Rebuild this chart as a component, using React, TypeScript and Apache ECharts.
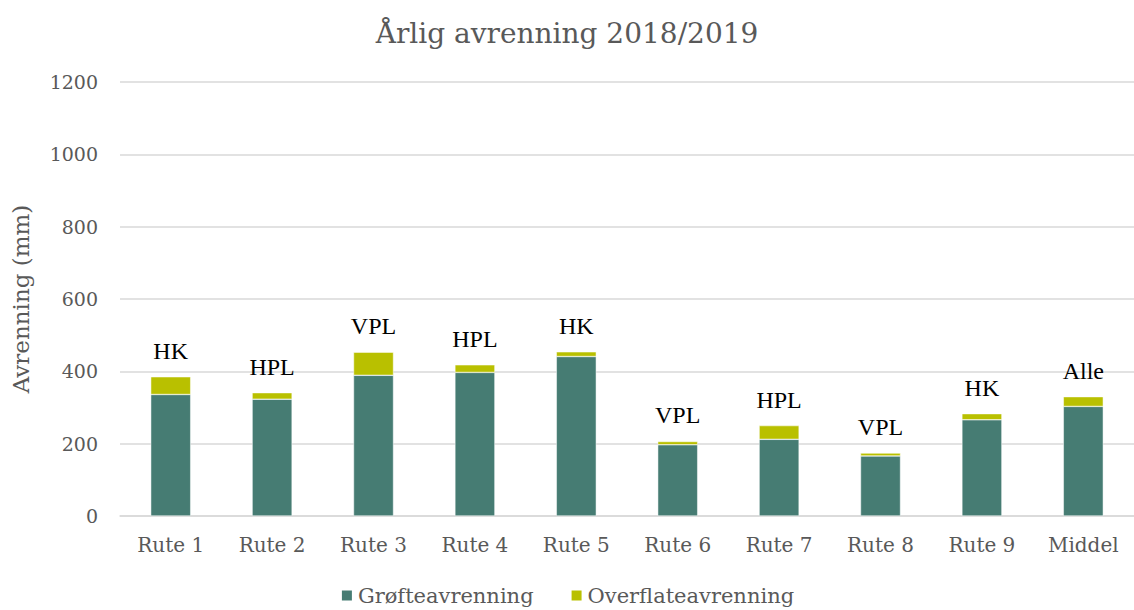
import React, { useEffect, useRef } from "react";
import * as echarts from "echarts";

const categories = ["Rute 1", "Rute 2", "Rute 3", "Rute 4", "Rute 5", "Rute 6", "Rute 7", "Rute 8", "Rute 9", "Middel"];
const grofteavrenning = [336, 323, 389, 397, 441, 197, 212, 166, 266, 303];
const overflateavrenning = [49, 18, 64, 21, 13, 9, 38, 8, 17, 27];
const barLabels = ["HK", "HPL", "VPL", "HPL", "HK", "VPL", "HPL", "VPL", "HK", "Alle"];

const FONT = "DejaVu Serif";
const GREY = "#595959";

export default function App() {
  const ref = useRef<HTMLDivElement>(null);
  useEffect(() => {
    document.body.style.margin = "0";
    const chart = echarts.init(ref.current!, null, { renderer: "svg" });
    chart.setOption({
      animation: false,
      backgroundColor: "#ffffff",
      title: {
        text: "Årlig avrenning 2018/2019",
        left: "center",
        top: 14,
        textStyle: { fontFamily: FONT, fontSize: 28, fontWeight: "normal", color: GREY },
      },
      legend: {
        top: 580,
        left: "center",
        itemWidth: 12,
        itemHeight: 12,
        itemGap: 36,
        icon: "rect",
        textStyle: { fontFamily: FONT, fontSize: 21, color: GREY },
        data: ["Grøfteavrenning", "Overflateavrenning"],
      },
      grid: { left: 120, right: 0, top: 82, bottom: 94 },
      xAxis: {
        type: "category",
        data: categories,
        axisTick: { show: false },
        axisLine: { lineStyle: { color: "#d9d9d9", width: 1.5 } },
        axisLabel: { fontFamily: FONT, fontSize: 20, color: GREY, margin: 19 },
      },
      yAxis: {
        type: "value",
        min: 0,
        max: 1200,
        interval: 200,
        name: "Avrenning (mm)",
        nameLocation: "middle",
        nameGap: 88,
        nameTextStyle: { fontFamily: FONT, fontSize: 23, color: GREY },
        axisLine: { show: false },
        axisTick: { show: false },
        splitLine: { lineStyle: { color: "#d9d9d9", width: 1.5 } },
        axisLabel: {
          fontFamily: FONT,
          fontSize: 19,
          color: GREY,
          margin: 22,
          formatter: (v: number) => String(v),
        },
      },
      series: [
        {
          name: "Grøfteavrenning",
          type: "bar",
          stack: "total",
          barWidth: 40,
          data: grofteavrenning,
          itemStyle: { color: "#467c73", borderColor: "#ffffff", borderWidth: 0.5 },
        },
        {
          name: "Overflateavrenning",
          type: "bar",
          stack: "total",
          barWidth: 40,
          data: overflateavrenning,
          itemStyle: { color: "#b9c000", borderColor: "#ffffff", borderWidth: 0.5 },
          label: {
            show: true,
            position: "top",
            distance: 14,
            formatter: (p: any) => barLabels[p.dataIndex],
            fontFamily: "Liberation Serif",
            fontSize: 24,
            color: "#000000",
          },
        },
      ],
    });
    return () => chart.dispose();
  }, []);
  return <div ref={ref} style={{ width: 1134, height: 610 }} />;
}
